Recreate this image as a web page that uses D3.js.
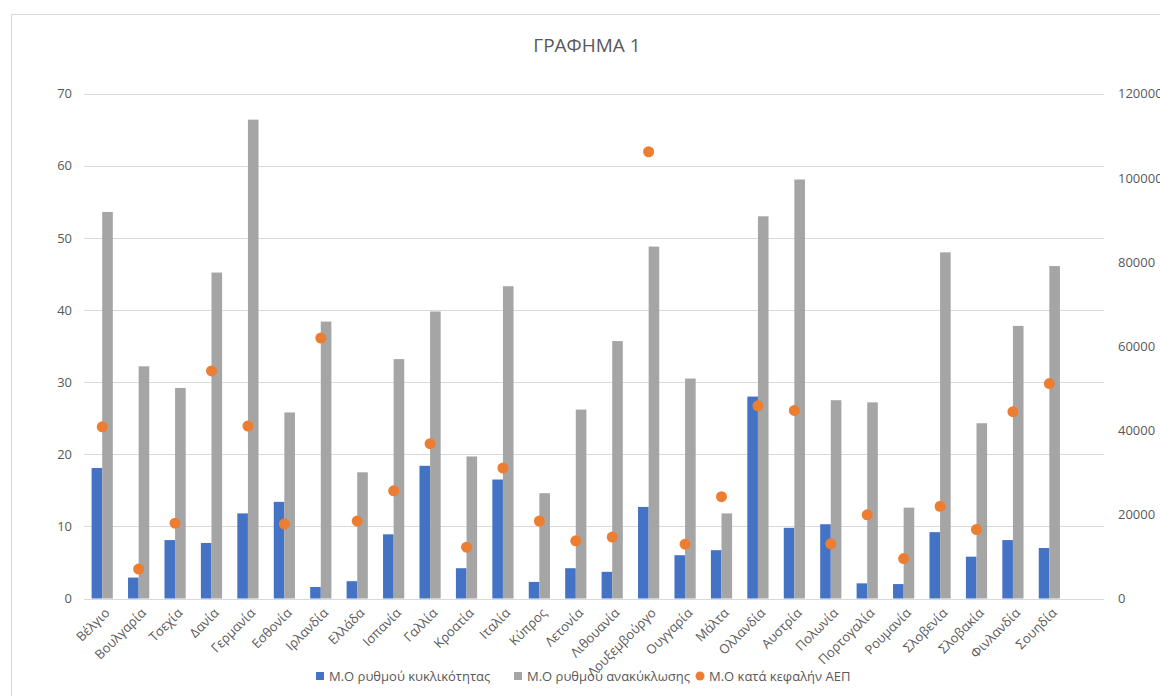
<!DOCTYPE html>
<html>
<head>
<meta charset="utf-8">
<script src="https://cdn.jsdelivr.net/npm/d3@7/dist/d3.min.js"></script>
<style>
  html, body { margin: 0; padding: 0; background: #fff; }
  svg { display: block; }
  text { font-family: "Open Sans", "Liberation Sans", sans-serif; fill: #595959; }
</style>
</head>
<body>
<svg id="chart" width="1160" height="696"></svg>
<script>
// Countries (x axis categories)
const categories = ["Βέλγιο", "Βουλγαρία", "Τσεχία", "Δανία", "Γερμανία", "Εσθονία", "Ιρλανδία",
  "Ελλάδα", "Ισπανία", "Γαλλία", "Κροατία", "Ιταλία", "Κύπρος", "Λετονία", "Λιθουανία",
  "Λουξεμβούργο", "Ουγγαρία", "Μάλτα", "Ολλανδία", "Αυστρία", "Πολωνία", "Πορτογαλία",
  "Ρουμανία", "Σλοβενία", "Σλοβακία", "Φινλανδία", "Σουηδία"];

// Μ.Ο ρυθμού κυκλικότητας (left axis)
const cyclicality = [18.1, 2.9, 8.1, 7.7, 11.8, 13.4, 1.6, 2.4, 8.9, 18.4, 4.2, 16.5, 2.3, 4.2,
  3.7, 12.7, 6.0, 6.7, 28.0, 9.8, 10.3, 2.1, 2.0, 9.2, 5.8, 8.1, 7.0];

// Μ.Ο ρυθμού ανακύκλωσης (left axis)
const recycling = [53.6, 32.2, 29.2, 45.2, 66.4, 25.8, 38.4, 17.5, 33.2, 39.8, 19.7, 43.3, 14.6,
  26.2, 35.7, 48.8, 30.5, 11.8, 53.0, 58.1, 27.5, 27.2, 12.6, 48.0, 24.3, 37.8, 46.1];

// Μ.Ο κατά κεφαλήν ΑΕΠ (right axis)
const gdpPerCapita = [40800, 7000, 17900, 54100, 41000, 17700, 61900, 18400, 25600, 36800, 12200,
  31000, 18400, 13700, 14600, 106200, 12900, 24200, 45800, 44700, 13000, 19900, 9500, 21900,
  16400, 44400, 51100];

const leftTicks = [0, 10, 20, 30, 40, 50, 60, 70];
const rightTicks = [0, 20000, 40000, 60000, 80000, 100000, 120000];

const seriesNames = ["Μ.Ο ρυθμού κυκλικότητας", "Μ.Ο ρυθμού ανακύκλωσης", "Μ.Ο κατά κεφαλήν ΑΕΠ"];
const colors = ["#4472C4", "#A5A5A5", "#ED7D31"];

const svg = d3.select("#chart");
const plot = { left: 84, right: 1104, top: 93.7, bottom: 598.5 };

// chart frame
svg.append("rect")
  .attr("x", 11.5).attr("y", 14.5)
  .attr("width", 1300).attr("height", 800)
  .attr("fill", "none").attr("stroke", "#d9d9d9").attr("stroke-width", 1);

// one trailing empty slot keeps the category spacing of the plot area
const x = d3.scaleBand()
  .domain(categories.concat([""]))
  .range([plot.left, plot.right])
  .paddingInner(0).paddingOuter(0);

const yL = d3.scaleLinear().domain([0, 70]).range([plot.bottom, plot.top]);
const yR = d3.scaleLinear().domain([0, 120000]).range([plot.bottom, plot.top]);

// gridlines
svg.append("g").selectAll("line")
  .data(leftTicks).join("line")
  .attr("x1", plot.left).attr("x2", plot.right)
  .attr("y1", d => Math.round(yL(d)) + 0.5).attr("y2", d => Math.round(yL(d)) + 0.5)
  .attr("stroke", "#d9d9d9").attr("stroke-width", 1);

// left axis
const axL = d3.axisLeft(yL).tickValues(leftTicks).tickSize(0).tickPadding(12);
const gL = svg.append("g").attr("transform", `translate(${plot.left},0)`).call(axL);
gL.select(".domain").remove();
gL.selectAll("text").attr("font-size", 13).attr("fill", "#595959")
  .style("font-family", "'Open Sans', sans-serif");

// right axis
const axR = d3.axisRight(yR).tickValues(rightTicks).tickSize(0).tickPadding(14)
  .tickFormat(d3.format("d"));
const gR = svg.append("g").attr("transform", `translate(${plot.right},0)`).call(axR);
gR.select(".domain").remove();
gR.selectAll("text").attr("font-size", 13).attr("fill", "#595959")
  .style("font-family", "'Open Sans', sans-serif");

const barW = 10.6;
const cx = c => x(c) + x.bandwidth() / 2;

// cyclicality bars
svg.append("g").selectAll("rect")
  .data(categories).join("rect")
  .attr("x", (c) => cx(c) - barW)
  .attr("width", barW)
  .attr("y", (c, i) => yL(cyclicality[i]))
  .attr("height", (c, i) => yL(0) - yL(cyclicality[i]))
  .attr("fill", colors[0]);

// recycling bars
svg.append("g").selectAll("rect")
  .data(categories).join("rect")
  .attr("x", (c) => cx(c))
  .attr("width", barW)
  .attr("y", (c, i) => yL(recycling[i]))
  .attr("height", (c, i) => yL(0) - yL(recycling[i]))
  .attr("fill", colors[1]);

// GDP per capita markers
svg.append("g").selectAll("circle")
  .data(categories).join("circle")
  .attr("cx", c => cx(c))
  .attr("cy", (c, i) => yR(gdpPerCapita[i]))
  .attr("r", 5.5)
  .attr("fill", colors[2]);

// category labels
svg.append("g").selectAll("text")
  .data(categories).join("text")
  .attr("transform", c => `translate(${cx(c) + 5},${plot.bottom + 12}) rotate(-45)`)
  .attr("text-anchor", "end")
  .attr("dy", "0.35em")
  .attr("font-size", 13)
  .text(c => c);

// title
svg.append("text")
  .attr("x", 587).attr("y", 52)
  .attr("text-anchor", "middle")
  .attr("font-size", 19)
  .text("ΓΡΑΦΗΜΑ 1");

// legend
const legendItems = [
  { name: seriesNames[0], x: 320, shape: "rect", color: colors[0] },
  { name: seriesNames[1], x: 518, shape: "rect", color: colors[1] },
  { name: seriesNames[2], x: 700, shape: "circle", color: colors[2] }
];
const lg = svg.append("g");
legendItems.forEach(item => {
  const g = lg.append("g").attr("transform", `translate(${item.x},676)`);
  if (item.shape === "rect") {
    g.append("rect").attr("x", -4).attr("y", -4).attr("width", 8).attr("height", 8).attr("fill", item.color);
  } else {
    g.append("circle").attr("r", 4.5).attr("fill", item.color);
  }
  g.append("text").attr("x", 9).attr("dy", "0.35em").attr("font-size", 13).text(item.name);
});
</script>
</body>
</html>
